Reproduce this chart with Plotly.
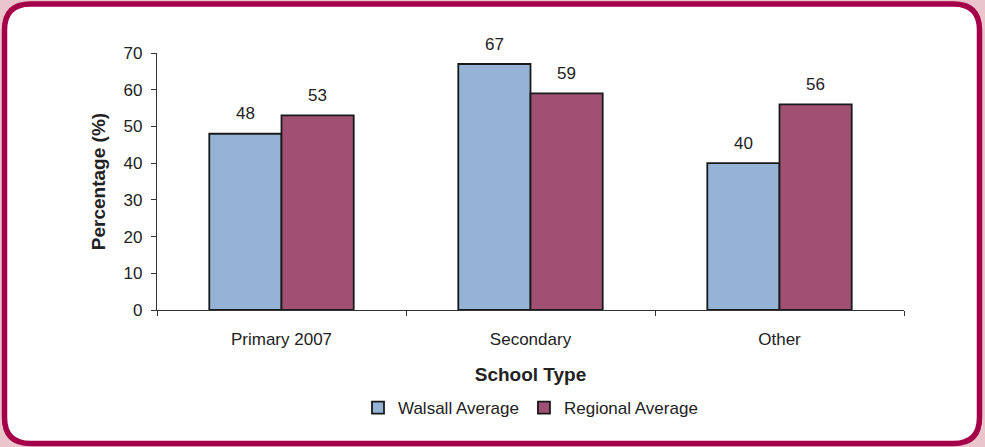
import plotly.graph_objects as go

categories = ["Primary 2007", "Secondary", "Other"]
walsall = [48, 67, 40]
regional = [53, 59, 56]
series_names = ["Walsall Average", "Regional Average"]
y_ticks = [0, 10, 20, 30, 40, 50, 60, 70]

FONT = "Liberation Sans, Arial, sans-serif"
TXT = "#222222"
W, H = 985, 447
L, R, T, B = 157, 81, 53, 137

fig = go.Figure()
fig.add_trace(go.Bar(x=categories, y=walsall, name=series_names[0],
                     marker=dict(color="#95B3D7", line=dict(color="#1a1a1a", width=1.8))))
fig.add_trace(go.Bar(x=categories, y=regional, name=series_names[1],
                     marker=dict(color="#A05073", line=dict(color="#1a1a1a", width=1.8))))

# data labels
for vals, xs in ((walsall, -36), (regional, 36)):
    for c, v in zip(categories, vals):
        fig.add_annotation(x=c, y=v, xref="x", yref="y", text=str(v), showarrow=False,
                           xshift=xs, yshift=20, yanchor="middle",
                           font=dict(family=FONT, size=17, color=TXT))

# rounded border in paper coords
pw, ph = W - L - R, H - T - B
def px(x):
    return (x - L) / pw
def py(y):
    return (H - B - y) / ph
x0, x1, y0, y1, r = 4.5, 979.5, 4.0, 443.5, 26
path = (f"M {px(x0+r)},{py(y0)} L {px(x1-r)},{py(y0)} Q {px(x1)},{py(y0)} {px(x1)},{py(y0+r)} "
        f"L {px(x1)},{py(y1-r)} Q {px(x1)},{py(y1)} {px(x1-r)},{py(y1)} "
        f"L {px(x0+r)},{py(y1)} Q {px(x0)},{py(y1)} {px(x0)},{py(y1-r)} "
        f"L {px(x0)},{py(y0+r)} Q {px(x0)},{py(y0)} {px(x0+r)},{py(y0)} Z")
fig.add_shape(type="path", path=path, xref="paper", yref="paper", layer="below",
              fillcolor="white", line=dict(color="#A5004A", width=5.5))

fig.update_layout(
    width=W, height=H,
    margin=dict(l=L, r=R, t=T, b=B, autoexpand=False),
    paper_bgcolor="#EAC6CC",
    plot_bgcolor="rgba(0,0,0,0)",
    barmode="group", bargap=0.42, bargroupgap=0,
    font=dict(family=FONT, size=17, color=TXT),
    showlegend=True,
    legend=dict(orientation="h", x=0.5, xanchor="center", y=py(408), yanchor="middle",
                font=dict(family=FONT, size=17, color=TXT), bgcolor="rgba(0,0,0,0)",
                itemwidth=30, tracegroupgap=0),
    xaxis=dict(type="category", tickson="boundaries", ticks="outside", ticklen=5,
               tickcolor="#333333", showline=True, linecolor="#333333", linewidth=1.2,
               showgrid=False, zeroline=False, ticklabelstandoff=13,
               tickfont=dict(family=FONT, size=17, color=TXT),
               title=dict(text="<b>School Type</b>", standoff=20,
                          font=dict(family=FONT, size=19, color=TXT))),
    yaxis=dict(range=[0, 70], tickvals=y_ticks, ticks="outside", ticklen=5,
               tickcolor="#333333", showline=True, linecolor="#333333", linewidth=1.2,
               showgrid=False, zeroline=False, ticklabelstandoff=5,
               tickfont=dict(family=FONT, size=17, color=TXT),
               title=dict(text="<b>Percentage (%)</b>", standoff=12,
                          font=dict(family=FONT, size=19, color=TXT))),
)

fig.write_html("out.html")
